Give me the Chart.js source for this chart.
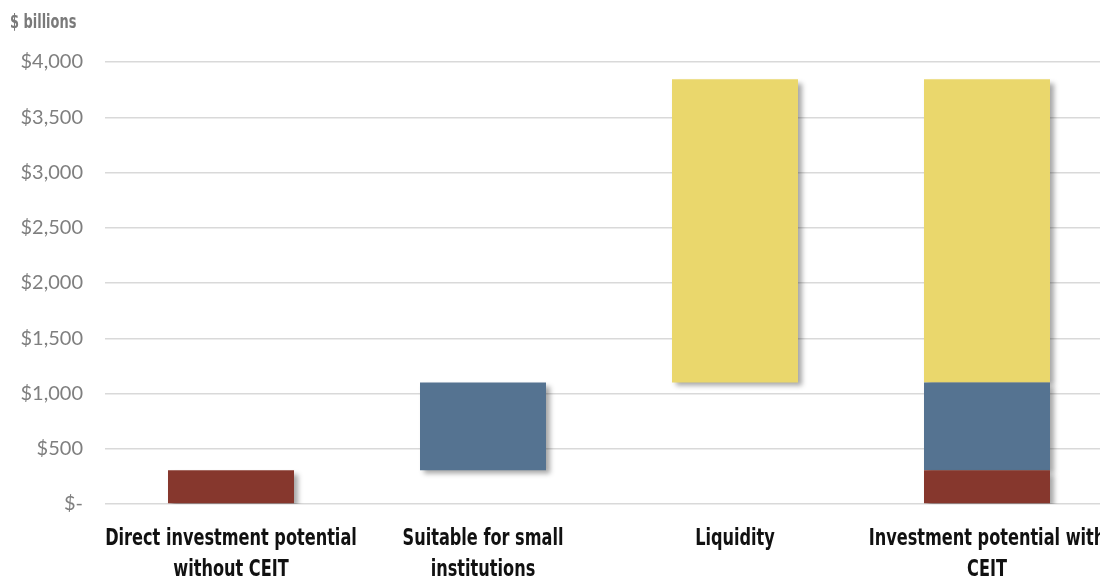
<!DOCTYPE html>
<html>
<head>
<meta charset="utf-8">
<script src="https://cdn.jsdelivr.net/npm/chart.js@4"></script>
<style>
  html, body { margin: 0; padding: 0; background: #fff; overflow: hidden; }
  #wrap { position: relative; width: 1100px; height: 579px; overflow: hidden; }
  #chart { position: absolute; left: 0; top: 0; }
  #unit {
    position: absolute; left: 10px; top: 9px;
    font-family: "DejaVu Sans Condensed", "DejaVu Sans", sans-serif;
    font-weight: bold; font-size: 20px; color: #7a7a7a;
    transform: scaleX(0.72); transform-origin: left top; white-space: nowrap;
  }
</style>
</head>
<body>
<div id="wrap">
  <canvas id="chart" width="1120" height="579" style="width:1120px;height:579px"></canvas>
  <div id="unit">$ billions</div>
</div>
<script>
// 항목 이름 (두 줄로 나눔)
const categories = [
    ['Direct investment potential', 'without CEIT'],
    ['Suitable for small', 'institutions'],
    ['Liquidity'],
    ['Investment potential with', 'CEIT']
];

// 각 구간 [시작, 끝] ($ billions)
const directRange = [0, 305];
const smallInstRange = [305, 1100];
const liquidityRange = [1100, 3845];

const yTicks = [0, 500, 1000, 1500, 2000, 2500, 3000, 3500, 4000];

const redColor = '#86372d';
const blueColor = '#557391';
const yellowColor = '#ead76c';

// 막대 그림자
const shadowPlugin = {
    id: 'barShadow',
    beforeDatasetsDraw(chart) {
        const ctx = chart.ctx;
        ctx.save();
        ctx.shadowColor = 'rgba(0, 0, 0, 0.35)';
        ctx.shadowBlur = 5;
        ctx.shadowOffsetX = 4;
        ctx.shadowOffsetY = 4;
    },
    afterDatasetsDraw(chart) {
        chart.ctx.restore();
    }
};

// x축 라벨: 좁은 굵은 글꼴 흉내 (가로로 눌러서 그림)
const xLabelPlugin = {
    id: 'xLabels',
    afterDraw(chart) {
        const ctx = chart.ctx;
        const xScale = chart.scales.x;
        const top = chart.chartArea.bottom + 35;
        const lineGap = 31;
        ctx.save();
        ctx.fillStyle = '#111';
        ctx.font = 'bold 23px "DejaVu Sans Condensed", "DejaVu Sans", sans-serif';
        ctx.textAlign = 'center';
        ctx.textBaseline = 'middle';
        categories.forEach((lines, i) => {
            const x = xScale.getPixelForValue(i);
            lines.forEach((line, j) => {
                ctx.save();
                ctx.translate(x, top + j * lineGap);
                ctx.scale(0.78, 1);
                ctx.fillText(line, 0, 0);
                ctx.restore();
            });
        });
        ctx.restore();
    }
};

const ctx = document.getElementById('chart').getContext('2d');
const chart = new Chart(ctx, {
    type: 'bar',
    data: {
        labels: categories.map(l => l.join(' ')),
        datasets: [
            { label: 'Direct', data: [directRange, null, null, directRange], backgroundColor: redColor },
            { label: 'Small institutions', data: [null, smallInstRange, null, smallInstRange], backgroundColor: blueColor },
            { label: 'Liquidity', data: [null, null, liquidityRange, liquidityRange], backgroundColor: yellowColor }
        ]
    },
    options: {
        responsive: false,
        animation: false,
        devicePixelRatio: 1,
        layout: { padding: { left: 0, right: 7, top: 62, bottom: 75 } },
        plugins: { legend: { display: false }, tooltip: { enabled: false } },
        datasets: { bar: { categoryPercentage: 1, barPercentage: 0.5, borderWidth: 0 } },
        scales: {
            x: {
                display: false,
                stacked: true
            },
            y: {
                stacked: false,
                min: 0,
                max: 4000,
                afterBuildTicks(scale) {
                    scale.ticks = yTicks.map(v => ({ value: v }));
                },
                afterFit(scale) { scale.width = 105; },
                grid: { color: '#d9d9d9', lineWidth: 1.5, drawTicks: false },
                border: { display: false },
                ticks: {
                    color: '#7f7f7f',
                    padding: 22,
                    font: { family: 'Lato, sans-serif', size: 20 },
                    callback: v => v === 0 ? '$-' : '$' + v.toLocaleString('en-US')
                }
            }
        }
    },
    plugins: [shadowPlugin, xLabelPlugin]
});
</script>
</body>
</html>
